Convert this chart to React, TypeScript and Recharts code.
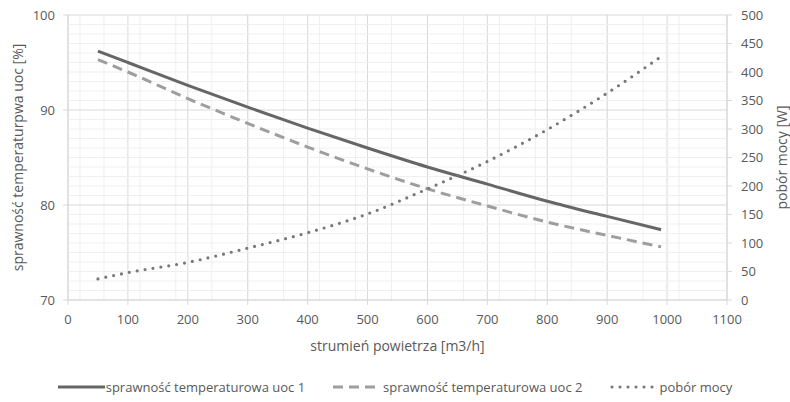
import React from 'react';
import { LineChart, Line, XAxis, YAxis, CartesianGrid, Legend, ReferenceLine } from 'recharts';

const airflow = [50, 100, 200, 300, 400, 500, 600, 700, 800, 900, 990];
const efficiency1 = [96.2, 95.0, 92.6, 90.3, 88.1, 86.0, 84.0, 82.2, 80.4, 78.8, 77.4];
const efficiency2 = [95.3, 94.0, 91.2, 88.6, 86.1, 83.8, 81.7, 79.9, 78.2, 76.8, 75.6];
const powerDraw = [37, 48, 66, 91, 118, 151, 195, 243, 299, 363, 427];

const xTicks = [0, 100, 200, 300, 400, 500, 600, 700, 800, 900, 1000, 1100];
const leftTicks = [70, 80, 90, 100];
const rightTicks = [0, 50, 100, 150, 200, 250, 300, 350, 400, 450, 500];
const xMinorTicks = Array.from({ length: 56 }, (_, i) => i * 20);
const yMinorTicks = Array.from({ length: 31 }, (_, i) => 70 + i).filter((v) => v % 10 !== 0);

const seriesNames = ['sprawność temperaturowa uoc 1', 'sprawność temperaturowa uoc 2', 'pobór mocy'];
const xTitle = 'strumień powietrza [m3/h]';
const leftTitle = 'sprawność temperaturpwa uoc [%]';
const rightTitle = 'pobór mocy [W]';

const data = airflow.map((x, i) => ({ x, e1: efficiency1[i], e2: efficiency2[i], p: powerDraw[i] }));

const FONT = '"Open Sans", sans-serif';
const TEXT = '#595959';
const GRID = '#d9d9d9';
const MINOR = '#efefef';

const styles = [
  { stroke: '#666666', dash: undefined as string | undefined, cap: 'butt', width: 3, iconW: 47, gap: 1 },
  { stroke: '#9e9e9e', dash: '10 6', cap: 'butt', width: 3, iconW: 42, gap: 8 },
  { stroke: '#787878', dash: '0 8', cap: 'round', width: 3.2, iconW: 45, gap: 4 },
];

const renderLegend = () => (
  <div style={{ display: 'flex', justifyContent: 'center', alignItems: 'center', height: 24, fontFamily: FONT, fontSize: 13, color: TEXT, whiteSpace: 'nowrap' }}>
    {seriesNames.map((name, i) => (
      <div key={name} style={{ display: 'flex', alignItems: 'center', marginLeft: i === 0 ? 0 : 28 }}>
        <svg width={styles[i].iconW} height={8} style={{ marginRight: styles[i].gap }}>
          <line x1={i === 2 ? 2 : 0} y1={4} x2={styles[i].iconW} y2={4} stroke={styles[i].stroke} strokeWidth={styles[i].width}
            strokeDasharray={styles[i].dash} strokeLinecap={styles[i].cap as any} />
        </svg>
        <span>{name}</span>
      </div>
    ))}
  </div>
);

export default function App() {
  const tickStyle = { fontFamily: FONT, fontSize: 13, fill: TEXT };
  return (
    <div style={{ width: 790, height: 402, background: '#fff' }}>
      <style>{`body{margin:0;}`}</style>
      <LineChart width={790} height={402} data={data} margin={{ top: 15, right: 0, left: 0, bottom: 3 }}>
        <XAxis xAxisId="minor" dataKey="x" type="number" domain={[0, 1100]} ticks={xMinorTicks} allowDataOverflow hide />
        <CartesianGrid xAxisId="minor" yAxisId="left" horizontal={false} stroke={MINOR} strokeWidth={1} />
        {yMinorTicks.map((v) => (
          <ReferenceLine key={v} xAxisId="main" yAxisId="left" y={v} stroke={MINOR} strokeWidth={1} />
        ))}
        <CartesianGrid xAxisId="main" yAxisId="left" stroke={GRID} strokeWidth={1} />
        <XAxis xAxisId="main" dataKey="x" type="number" domain={[0, 1100]} ticks={xTicks} height={75}
          tick={tickStyle} tickLine={{ stroke: GRID }} axisLine={{ stroke: GRID }} tickSize={5} tickMargin={10}
          label={{ value: xTitle, position: 'insideBottom', offset: 24, style: { fontFamily: FONT, fontSize: 14, fill: TEXT } }} />
        <YAxis yAxisId="left" type="number" domain={[70, 100]} ticks={leftTicks} width={68}
          tick={tickStyle} tickLine={{ stroke: GRID }} axisLine={{ stroke: GRID }} tickSize={5} tickMargin={8}
          label={{ value: leftTitle, angle: -90, position: 'insideLeft', offset: 18, style: { textAnchor: 'middle', fontFamily: FONT, fontSize: 14, fill: TEXT } }} />
        <YAxis yAxisId="right" orientation="right" type="number" domain={[0, 500]} ticks={rightTicks} width={63}
          tick={{ ...tickStyle, textAnchor: 'start' }} tickLine={{ stroke: GRID }} axisLine={{ stroke: GRID }} tickSize={5} tickMargin={9}
          label={{ value: rightTitle, angle: -90, position: 'insideRight', offset: 8, style: { textAnchor: 'middle', fontFamily: FONT, fontSize: 14, fill: TEXT } }} />
        <Legend verticalAlign="bottom" content={renderLegend} />
        <Line xAxisId="main" yAxisId="left" type="monotone" dataKey="e1" name={seriesNames[0]} stroke={styles[0].stroke}
          strokeWidth={3} dot={false} isAnimationActive={false} />
        <Line xAxisId="main" yAxisId="left" type="monotone" dataKey="e2" name={seriesNames[1]} stroke={styles[1].stroke}
          strokeWidth={3} strokeDasharray={styles[1].dash} dot={false} isAnimationActive={false} />
        <Line xAxisId="main" yAxisId="right" type="monotone" dataKey="p" name={seriesNames[2]} stroke={styles[2].stroke}
          strokeWidth={3.2} strokeDasharray={styles[2].dash} strokeLinecap="round" dot={false} isAnimationActive={false} />
      </LineChart>
    </div>
  );
}
